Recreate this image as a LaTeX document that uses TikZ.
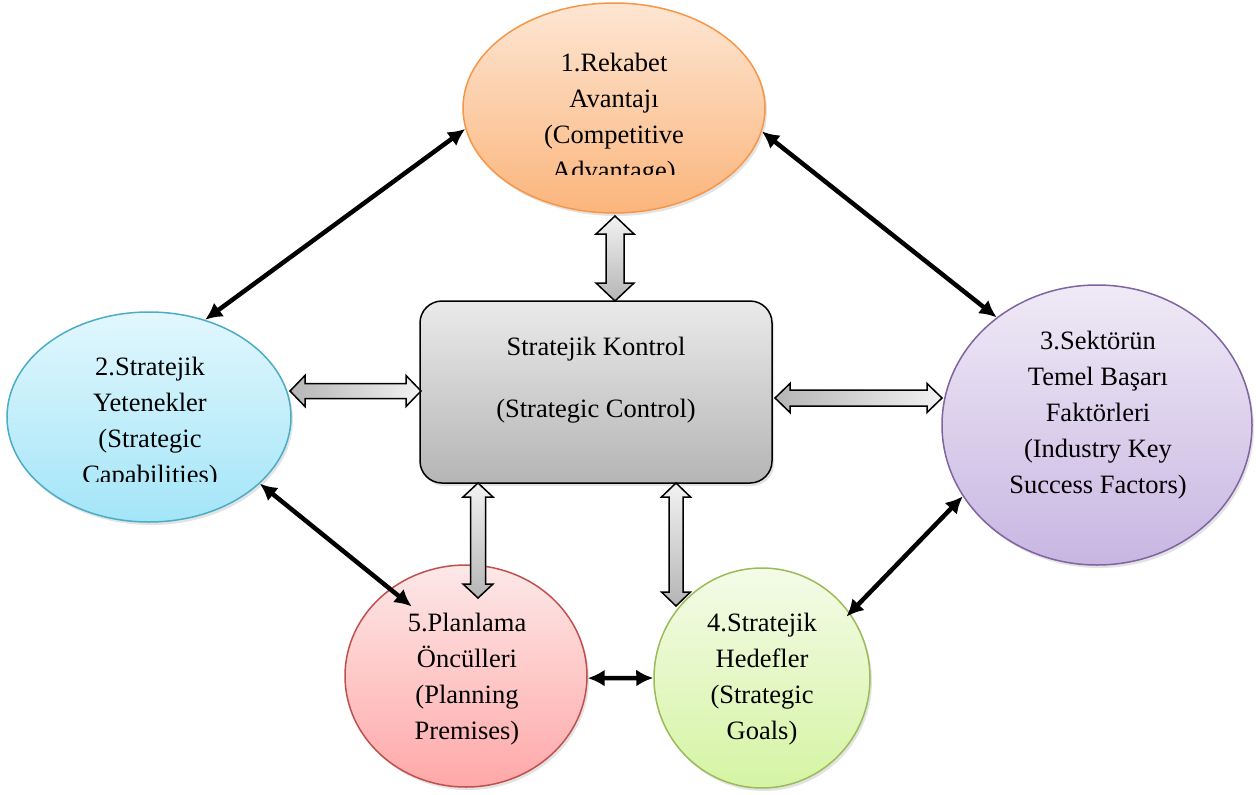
\documentclass[tikz,border=0pt]{standalone}
\usepackage{fontspec}
\setmainfont{Liberation Serif}
\usetikzlibrary{shapes.geometric,arrows.meta,shadows,calc}
\definecolor{orTop}{HTML}{FDE6D3}
\definecolor{orBot}{HTML}{FBB57C}
\definecolor{orLine}{HTML}{F79646}
\definecolor{blTop}{HTML}{E2F7FD}
\definecolor{blBot}{HTML}{A3E5F8}
\definecolor{blLine}{HTML}{4BACC6}
\definecolor{puTop}{HTML}{EFEAF6}
\definecolor{puBot}{HTML}{C8B6E2}
\definecolor{puLine}{HTML}{8064A2}
\definecolor{reTop}{HTML}{FDE8E8}
\definecolor{reBot}{HTML}{FFA8A8}
\definecolor{reLine}{HTML}{C0504D}
\definecolor{grTop}{HTML}{F4FBE8}
\definecolor{grBot}{HTML}{D5F4A3}
\definecolor{grLine}{HTML}{9BBB59}
\definecolor{gyTop}{HTML}{EAEAEA}
\definecolor{gyBot}{HTML}{B5B5B5}
\newcommand{\vblock}[6]{%
  \draw[barrow, top color=gyTop!60, bottom color=gyBot]
    (#1,#2) -- (#1+#5,#2+#6) -- (#1+#4,#2+#6) -- (#1+#4,#3-#6) -- (#1+#5,#3-#6)
    -- (#1,#3) -- (#1-#5,#3-#6) -- (#1-#4,#3-#6) -- (#1-#4,#2+#6) -- (#1-#5,#2+#6) -- cycle;}
\newcommand{\hblock}[6]{%
  \draw[barrow, left color=gyBot, right color=gyTop!60]
    (#2,#1) -- (#2+#6,#1-#5) -- (#2+#6,#1-#4) -- (#3-#6,#1-#4) -- (#3-#6,#1-#5)
    -- (#3,#1) -- (#3-#6,#1+#5) -- (#3-#6,#1+#4) -- (#2+#6,#1+#4) -- (#2+#6,#1+#5) -- cycle;}
\begin{document}
\begin{tikzpicture}[x=1pt,y=-1pt,
  bub/.style={ellipse, inner sep=0pt, line width=1.5pt,
    drop shadow={shadow xshift=2pt,shadow yshift=-3pt,opacity=0.22}},
  lbl/.style={align=center, font=\fontsize{26.5}{36}\selectfont, inner sep=0pt},
  blk/.style={line width=4.5pt, {Latex[length=17pt,width=17pt]}-{Latex[length=17pt,width=17pt]}},
  barrow/.style={draw=black, line width=1.5pt, line join=miter}
]
\useasboundingbox (0,0) rectangle (1256,795);

% bubbles
\node[bub, draw=orLine, top color=orTop, bottom color=orBot, minimum width=302, minimum height=210] (e1) at (614,108) {};
\node[bub, draw=blLine, top color=blTop, bottom color=blBot, minimum width=284, minimum height=210] (e2) at (149,417) {};
\node[bub, draw=puLine, top color=puTop, bottom color=puBot, minimum width=310, minimum height=280] (e3) at (1097,425) {};
\node[bub, draw=grLine, top color=grTop, bottom color=grBot, minimum width=216, minimum height=220] (e4) at (762,678) {};
\node[bub, draw=reLine, top color=reTop, bottom color=reBot, minimum width=242, minimum height=222] (e5) at (466,676) {};

% central box
\node[draw=black, line width=1.5pt, rounded corners=22pt, minimum width=352, minimum height=182,
  top color=gyTop, bottom color=gyBot,
  drop shadow={shadow xshift=2pt,shadow yshift=-3pt,opacity=0.22}] (ctrl) at (596,392) {};
\node[lbl] (tctrl) at (596,380) {Stratejik Kontrol\\[26pt](Strategic Control)};

% labels
\begin{scope}
  \clip (440,0) rectangle (790,174);
  \node[lbl] (t1) at (614,119) {1.Rekabet\\Avantajı\\(Competitive\\Advantage)};
\end{scope}
\begin{scope}
  \clip (0,300) rectangle (300,481);
  \node[lbl] (t2) at (150,423) {2.Stratejik\\Yetenekler\\(Strategic\\Capabilities)};
\end{scope}
\node[lbl] (t3) at (1098,415) {3.Sektörün\\Temel Başarı\\Faktörleri\\(Industry Key\\Success Factors)};
\node[lbl] (t4) at (762,679) {4.Stratejik\\Hedefler\\(Strategic\\Goals)};
\node[lbl] (t5) at (467,679) {5.Planlama\\Öncülleri\\(Planning\\Premises)};

% block arrows to/from the control box
\vblock{615}{216}{301}{9}{19}{18}
\vblock{478}{483}{598}{7.5}{15}{14}
\vblock{676}{483}{606}{7}{14.5}{14}
\hblock{391}{290}{421}{7.5}{15.5}{15}
\hblock{398}{775}{942}{8}{14.5}{15}

% black double arrows
\draw[blk] (e1.188.7) -- (e2.60);
\draw[blk] (e1.-9) -- (e3.133);
\draw[blk] (e2.-31) -- ($(e5.128)!27pt!(e5.center)$);
\draw[blk] (e3.208) -- ($(e4.36)!5pt!(e4.center)$);
\draw[blk] (e5.-1.4) -- (e4.180.5);
\end{tikzpicture}
\end{document}
